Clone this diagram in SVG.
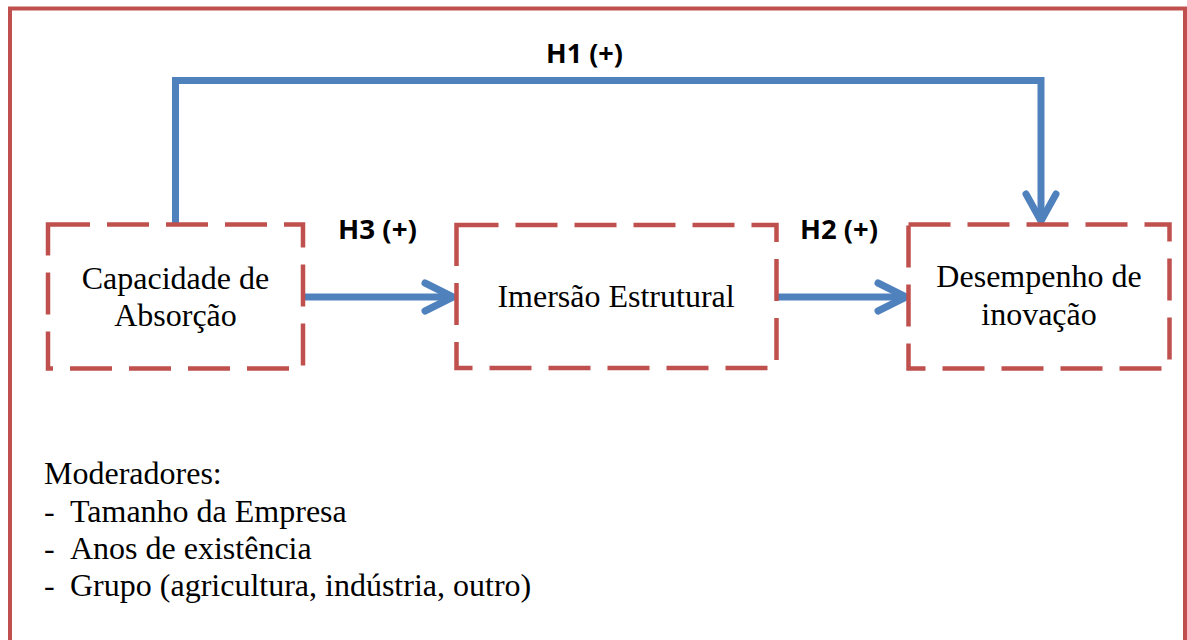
<svg xmlns="http://www.w3.org/2000/svg" width="1187" height="640" viewBox="0 0 1187 640">
<style>
.frame{fill:none;stroke:#C0504D;stroke-width:4}
.box{fill:none;stroke:#C0504D;stroke-width:4.5;stroke-dasharray:42 17;stroke-linejoin:miter}
.conn{fill:none;stroke:#4F81BD;stroke-width:7}
.head{fill:none;stroke:#4F81BD;stroke-width:7;stroke-linecap:round;stroke-linejoin:round}
.t{font-family:"Liberation Serif","Times New Roman",serif;font-size:32px;fill:#000}
.h{font-family:"Open Sans","Liberation Sans",sans-serif;font-weight:bold;font-size:26.5px;fill:#000}
</style>
<rect width="1187" height="640" fill="#fff"/>
<rect class="frame" x="10" y="8.5" width="1175" height="700"/>
<g id="connectors">
<path class="conn" d="M175.5 224 V80.5 H1041 V218"/>
<path class="head" d="M1026 194 L1041 221 L1056 194"/>
<path class="conn" d="M304 297 H450"/>
<path class="head" d="M425 283 L453 297 L425 311"/>
<path class="conn" d="M777 297 H902"/>
<path class="head" d="M878 283 L906 297 L878 311"/>
<text class="h" x="546" y="63" textLength="77" lengthAdjust="spacingAndGlyphs">H1 (+)</text>
<text class="h" x="338" y="239" textLength="79" lengthAdjust="spacingAndGlyphs">H3 (+)</text>
<text class="h" x="800" y="239" textLength="78" lengthAdjust="spacingAndGlyphs">H2 (+)</text>
</g>
<g id="node-capacidade">
<rect class="box" x="48" y="224.5" width="255" height="144"/>
<text class="t" x="175.5" y="289" text-anchor="middle">Capacidade de</text>
<text class="t" x="175.5" y="326" text-anchor="middle">Absorção</text>
</g>
<g id="node-imersao">
<rect class="box" x="456.5" y="225" width="320" height="143"/>
<text class="t" x="616" y="307" text-anchor="middle">Imersão Estrutural</text>
</g>
<g id="node-desempenho">
<rect class="box" x="908.5" y="224.5" width="261" height="144"/>
<text class="t" x="1039" y="287" text-anchor="middle">Desempenho de</text>
<text class="t" x="1039" y="325" text-anchor="middle">inovação</text>
</g>
<g id="moderadores">
<text class="t" x="44" y="484">Moderadores:</text>
<text class="t" x="44" y="522">-</text><text class="t" x="70" y="522">Tamanho da Empresa</text>
<text class="t" x="44" y="559">-</text><text class="t" x="70" y="559">Anos de existência</text>
<text class="t" x="44" y="596">-</text><text class="t" x="70" y="596">Grupo (agricultura, indústria, outro)</text>
</g>
</svg>
